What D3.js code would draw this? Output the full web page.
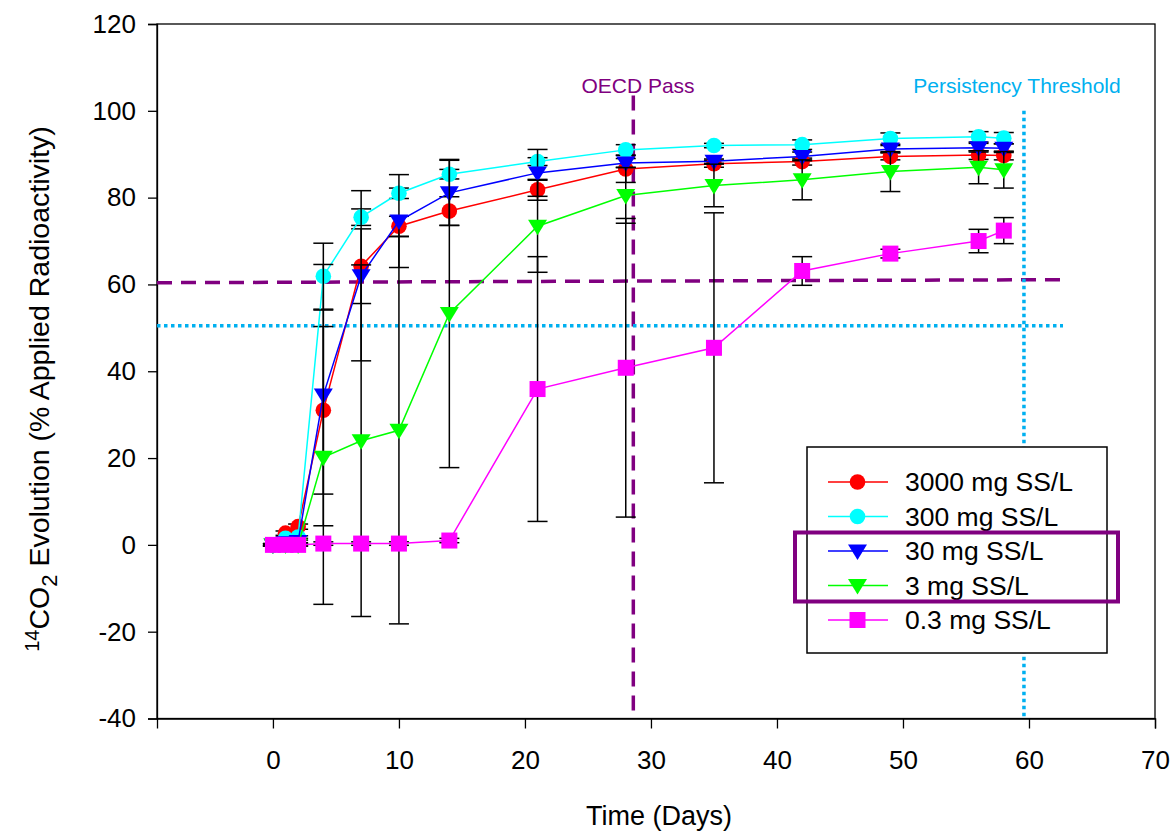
<!DOCTYPE html>
<html><head><meta charset="utf-8">
<script src="https://cdn.jsdelivr.net/npm/d3@7"></script>
<style>body{margin:0;background:#fff}svg{display:block}text{font-family:"Liberation Sans",Arial,sans-serif}</style>
</head><body><svg id="c" width="1175" height="832"></svg>
<script>
// ---- data ----
const days = [0,1,2,4,7,10,14,21,28,35,42,49,56,58];
const seriesNames = ["3000 mg SS/L","300 mg SS/L","30 mg SS/L","3 mg SS/L","0.3 mg SS/L"];
const mean3000 = [0,2.7,4.2,31,64.2,73.4,76.9,81.8,86.6,87.8,88.3,89.5,89.8,89.7];
const err3000  = [0.3,0.5,0.6,19.3,8.6,2.3,3.3,2.4,3.1,0.8,0.8,0.8,1,1];
const mean300  = [0,1.5,1.8,61.9,75.5,81,85.4,88.3,91,92,92.2,93.6,94,93.7];
const err300   = [0.2,0.3,0.3,7.6,1.9,1.2,1.1,0.9,1.2,0.5,1.1,1.3,1.2,1.3];
const mean30   = [0,0.5,0.8,34.5,62,74.6,81.1,85.7,88,88.4,89.5,91.2,91.5,91.4];
const err30    = [0.2,0.3,0.3,30.1,19.6,10.7,7.5,5.4,1,0.5,1,0.8,1,1];
const mean3    = [0,0,0,20.2,24,26.4,53.3,73.4,80.5,82.8,84.1,86,87,86.4];
const err3     = [0.2,0.2,0.2,33.9,40.5,44.6,35.5,10.6,6.4,4.9,4.6,4.6,3.8,4.2];
const mean03   = [0,0,0,0.3,0.3,0.3,1,35.9,40.8,45.4,63.1,67.1,70,72.4];
const err03    = [0.3,0.3,0.3,0.4,0.4,0.4,0.5,30.5,34.4,31.1,3.3,1,2.7,3];
const seriesColors = ["#ff0000","#00ffff","#0000ff","#00ff00","#ff00ff"];
const seriesSymbols = ["circle","circle","triangleDown","triangleDown","square"];
const xTicks = [0,10,20,30,40,50,60,70];
const yTicks = [-40,-20,0,20,40,60,80,100,120];
const oecdLevel = [[-9.2,60.4],[62.7,61.1]];
const oecdDay = 28.6;
const persistLevel = 50.5;
const persistDay = 59.6;

const means = [mean3000,mean300,mean30,mean3,mean03];
const errs = [err3000,err300,err30,err3,err03];

// ---- layout ----
const svg = d3.select("#c");
const L=157,R=1155,T=24,B=718.5;
const x = d3.scaleLinear().domain([-9.2,70]).range([L,R]);
const y = d3.scaleLinear().domain([-40,120]).range([B,T]);
const purple="#800080", sky="#00b0f0";

// frame
svg.append("rect").attr("x",L).attr("y",T).attr("width",R-L).attr("height",B-T)
  .attr("fill","none").attr("stroke","#000").attr("stroke-width",1.3);

// axes
const fmt = d=>String(d);
const ya = svg.append("g").attr("transform",`translate(${L},0)`)
  .call(d3.axisLeft(y).tickValues(yTicks).tickFormat(fmt).tickSize(9).tickPadding(12));
ya.selectAll("text").attr("font-size",26).attr("fill","#000");
const xa = svg.append("g").attr("transform",`translate(0,${B})`)
  .call(d3.axisBottom(x).tickValues(xTicks).tickFormat(fmt).tickSize(10).tickPadding(22));
xa.selectAll("text").attr("font-size",26).attr("fill","#000");
[ya,xa].forEach(g=>{g.select(".domain").attr("stroke","#000").attr("stroke-width",1.3);
  g.selectAll(".tick line").attr("stroke","#000").attr("stroke-width",1.3);});

// axis titles
svg.append("text").attr("x",(x(-9.2)+x(70))/2+3).attr("y",825).attr("text-anchor","middle")
  .attr("font-size",27).text("Time (Days)");
const yt = svg.append("text").attr("transform",`translate(49,389) rotate(-90)`)
  .attr("text-anchor","middle").attr("font-size",28.5);
yt.append("tspan").attr("font-size",20).attr("dy",-10).text("14");
yt.append("tspan").attr("dy",10).text("CO");
yt.append("tspan").attr("font-size",22).attr("dy",8).text("2");
yt.append("tspan").attr("dy",-8).text(" Evolution (% Applied Radioactivity)");

// reference lines
svg.append("line").attr("x1",x(oecdLevel[0][0])).attr("y1",y(oecdLevel[0][1]))
  .attr("x2",x(oecdLevel[1][0])).attr("y2",y(oecdLevel[1][1]))
  .attr("stroke",purple).attr("stroke-width",3.5).attr("stroke-dasharray","15,9");
svg.append("line").attr("x1",x(oecdDay)).attr("x2",x(oecdDay)).attr("y1",y(103.5)).attr("y2",y(-40))
  .attr("stroke",purple).attr("stroke-width",3.5).attr("stroke-dasharray","15,9");
svg.append("line").attr("x1",x(-9.2)).attr("x2",x(62.7)).attr("y1",y(persistLevel)).attr("y2",y(persistLevel))
  .attr("stroke",sky).attr("stroke-width",3.5).attr("stroke-dasharray","3.5,3.5");
svg.append("line").attr("x1",x(persistDay)).attr("x2",x(persistDay)).attr("y1",y(100)).attr("y2",y(-40))
  .attr("stroke",sky).attr("stroke-width",3.5).attr("stroke-dasharray","3.5,3.5");
svg.append("text").attr("x",638).attr("y",93).attr("text-anchor","middle")
  .attr("font-size",21).attr("fill",purple).text("OECD Pass");
svg.append("text").attr("x",1017).attr("y",93).attr("text-anchor","middle")
  .attr("font-size",21).attr("fill",sky).text("Persistency Threshold");

// symbols
function sym(g,type,cx,cy,color){
  if(type==="circle") g.append("circle").attr("cx",cx).attr("cy",cy).attr("r",7.8).attr("fill",color);
  else if(type==="square") g.append("rect").attr("x",cx-8).attr("y",cy-8).attr("width",16).attr("height",16).attr("fill",color);
  else g.append("path").attr("d",`M${cx-9.5},${cy-6.5}L${cx+9.5},${cy-6.5}L${cx},${cy+9}Z`).attr("fill",color);
}

// series
const line = d3.line().x(d=>x(d[0])).y(d=>y(d[1]));
means.forEach((m,si)=>{
  const g = svg.append("g");
  const pts = days.map((d,i)=>[d,m[i],errs[si][i]]);
  pts.forEach(p=>{
    const cx=x(p[0]), lo=y(p[1]-p[2]), hi=y(p[1]+p[2]);
    g.append("line").attr("x1",cx).attr("x2",cx).attr("y1",lo).attr("y2",hi).attr("stroke","#000").attr("stroke-width",1.5);
    [lo,hi].forEach(yy=>g.append("line").attr("x1",cx-10).attr("x2",cx+10).attr("y1",yy).attr("y2",yy).attr("stroke","#000").attr("stroke-width",1.5));
  });
  g.append("path").attr("d",line(pts)).attr("fill","none").attr("stroke",seriesColors[si]).attr("stroke-width",1.5);
  pts.forEach(p=>sym(g,seriesSymbols[si],x(p[0]),y(p[1]),seriesColors[si]));
});

// legend
const lg = svg.append("g");
lg.append("rect").attr("x",807).attr("y",447).attr("width",300).attr("height",206)
  .attr("fill","#fff").attr("stroke","#000").attr("stroke-width",1.5);
seriesNames.forEach((n,i)=>{
  const yy = 482 + i*34.5;
  lg.append("line").attr("x1",828).attr("x2",888).attr("y1",yy).attr("y2",yy).attr("stroke",seriesColors[i]).attr("stroke-width",1.5);
  sym(lg,seriesSymbols[i],857.5,yy,seriesColors[i]);
  lg.append("text").attr("x",905).attr("y",yy+9).attr("font-size",26.5).text(n);
});
svg.append("rect").attr("x",795).attr("y",532.5).attr("width",323).attr("height",69)
  .attr("fill","none").attr("stroke",purple).attr("stroke-width",4);
</script></body></html>
